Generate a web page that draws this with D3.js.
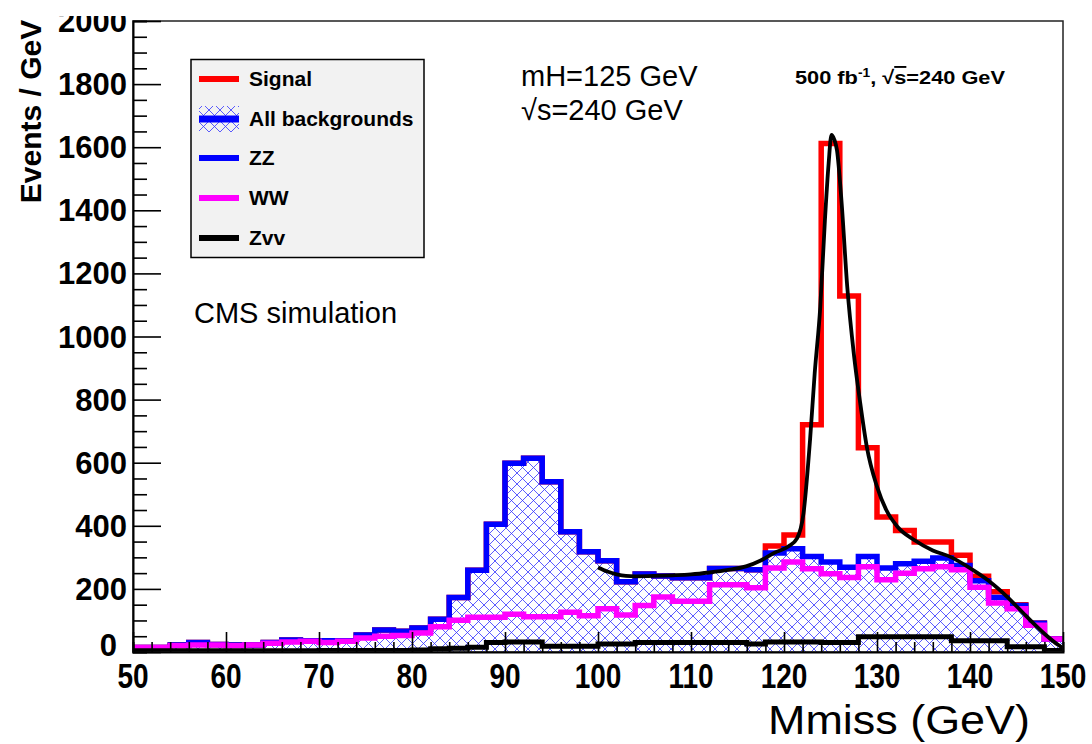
<!DOCTYPE html>
<html><head><meta charset="utf-8">
<script src="https://cdn.jsdelivr.net/npm/d3@7"></script>
<style>body{margin:0;background:#fff}svg{display:block}</style>
</head><body>
<svg id="chart" width="1092" height="744"></svg>
<script>
// ---- data (2 GeV bins, lower edges) ----
const binLow = [50,52,54,56,58,60,62,64,66,68,70,72,74,76,78,80,82,84,86,88,90,92,94,96,98,
                100,102,104,106,108,110,112,114,116,118,120,122,124,126,128,130,132,134,136,138,140,142,144,146,148];
const allBkg = [14,14,22,30,24,22,22,30,38,36,36,36,54,70,66,76,104,173,259,405,598,614,540,381,318,
                289,223,247,241,235,235,265,265,261,314,327,303,285,269,303,266,280,288,298,274,226,173,147,91,41];
const wwBkg  = [14,14,20,22,22,20,22,28,32,34,30,34,44,50,52,60,80,101,110,110,120,112,112,126,115,
                137,117,147,174,161,161,213,213,204,266,285,264,248,236,270,229,250,264,270,261,205,155,137,85,41];
const zvvBkg = [4,4,4,4,4,4,4,4,4,4,5,5,5,5,5,6,10,12,15,30,32,32,18,18,18,
                25,25,30,30,30,30,30,30,25,32,32,32,30,30,48,48,48,48,48,36,36,36,17,17,5];
const signal = [0,0,0,0,0,0,0,0,0,0,0,0,0,0,0,0,0,0,0,0,0,0,0,0,0,
                0,0,0,0,0,0,0,0,0,22,44,417,1327,859,344,162,105,61,51,33,14,18,3,1,1];
const fitMass  = [100,101,102,103,104,106,108,110,112,114,116,117.5,119,120.5,121.4,122.1,122.8,123.3,123.9,124.4,124.8,125.1,125.4,125.7,126.2,126.8,127.5,128.2,128.9,130,131,132.2,134,136,138,140,142,144,146,148,149.5,150];
const fitValue = [268,255,246,241,240,241,243,246,252,260,272,290,315,335,360,440,672,883,1094,1369,1549,1639,1625,1590,1422,1158,947,788,651,524,450,397,355,322,300,266,226,175,115,58,22,12];
const yTicks = [0,200,400,600,800,1000,1200,1400,1600,1800,2000];
const xTicks = [50,60,70,80,90,100,110,120,130,140,150];
const legendLabels = ["Signal","All backgrounds","ZZ","WW","Zvv"];
const legendColors = ["#ff0000","#0000ff","#0000ff","#ff00ff","#000000"];

// ---- geometry ----
const L = 133, R = 1063, T = 21, B = 652;
const x = d3.scaleLinear().domain([50,150]).range([L,R]);
const y = d3.scaleLinear().domain([0,2000]).range([B,T]);

const svg = d3.select("#chart");
const defs = svg.append("defs");
const pat = defs.append("pattern").attr("id","hatch").attr("patternUnits","userSpaceOnUse")
  .attr("width",11).attr("height",11);
pat.append("path").attr("d","M-1,-1L12,12M12,-1L-1,12").attr("stroke","#3333ff").attr("stroke-width",0.8).attr("fill","none");
defs.append("clipPath").attr("id","plotclip").append("rect").attr("x",L).attr("y",T).attr("width",R-L).attr("height",B-T);
defs.append("clipPath").attr("id","labclip").append("rect").attr("x",0).attr("y",16).attr("width",1092).attr("height",744);

const steps = arr => binLow.map((e,i)=>[e,arr[i]]).concat([[150,arr[arr.length-1]]]);
const line = d3.line().x(d=>x(d[0])).y(d=>y(d[1])).curve(d3.curveStepAfter);
const area = d3.area().x(d=>x(d[0])).y0(y(0)).y1(d=>y(d[1])).curve(d3.curveStepAfter);

const plot = svg.append("g").attr("clip-path","url(#plotclip)");
const total = allBkg.map((v,i)=>v+signal[i]);

plot.append("path").attr("d",area(steps(allBkg))).attr("fill","url(#hatch)");
plot.append("path").attr("d",line(steps(total))).attr("fill","none").attr("stroke","#ff0000").attr("stroke-width",5.5);
plot.append("path").attr("d",line(steps(allBkg))).attr("fill","none").attr("stroke","#0000ff").attr("stroke-width",5.5);
plot.append("path").attr("d",line(steps(wwBkg))).attr("fill","none").attr("stroke","#ff00ff").attr("stroke-width",5.5);
plot.append("path").attr("d",line(steps(zvvBkg))).attr("fill","none").attr("stroke","#000").attr("stroke-width",5);
const fitLine = d3.line().x((d,i)=>x(fitMass[i])).y(d=>y(d)).curve(d3.curveMonotoneX);
plot.append("path").attr("d",fitLine(fitValue)).attr("fill","none").attr("stroke","#000").attr("stroke-width",3.8);

// ---- frame & axes ----
svg.append("rect").attr("x",L).attr("y",T).attr("width",R-L).attr("height",B-T)
  .attr("fill","none").attr("stroke","#222").attr("stroke-width",1.5);

const yAxis = d3.axisRight(y).tickValues(d3.range(0,2001,50)).tickSize(14).tickFormat("");
const ya = svg.append("g").attr("transform",`translate(${L},0)`).call(yAxis);
ya.selectAll(".tick line").attr("x2",d=>d%200===0?28:14).attr("stroke","#000").attr("stroke-width",1.6);
ya.select(".domain").attr("stroke","#000").attr("stroke-width",2);

const xAxis = d3.axisTop(x).tickValues(d3.range(50,151,2)).tickSize(10).tickFormat("");
const xa = svg.append("g").attr("transform",`translate(0,${B})`).call(xAxis);
xa.selectAll(".tick line").attr("y2",d=>d%10===0?-20:-10).attr("stroke","#000").attr("stroke-width",1.6);
xa.select(".domain").attr("stroke","#000").attr("stroke-width",2);

// tick labels
const labG = svg.append("g").attr("clip-path","url(#labclip)");
labG.selectAll("text.yl").data(yTicks).enter().append("text")
  .attr("x",d=>d===0?117:127).attr("y",d=>y(d)+(d===0?4:11)).attr("text-anchor","end")
  .attr("font-family","Liberation Sans, Arial, sans-serif").attr("font-weight","bold").attr("font-size",31)
  .text(d=>d);
svg.selectAll("text.xl").data(xTicks).enter().append("text")
  .attr("transform",d=>`translate(${x(d)},688) scale(0.8,1)`).attr("text-anchor","middle")
  .attr("font-family","Liberation Sans, Arial, sans-serif").attr("font-weight","bold").attr("font-size",35)
  .text(d=>d);

svg.append("text").attr("transform","translate(41,111.5) rotate(-90)").attr("text-anchor","middle")
  .attr("font-family","Liberation Sans, Arial, sans-serif").attr("font-weight","bold").attr("font-size",30)
  .text("Events / GeV");

svg.append("text").attr("x",768).attr("y",734)
  .attr("font-family","Liberation Sans, Arial, sans-serif").attr("font-size",41)
  .attr("textLength",262).attr("lengthAdjust","spacingAndGlyphs").text("Mmiss (GeV)");

// ---- legend ----
const lg = svg.append("g");
lg.append("rect").attr("x",191).attr("y",59.5).attr("width",233).attr("height",198)
  .attr("fill","#f2f2f2").attr("stroke","#000").attr("stroke-width",1.5);
const rowY = [79,119,158,198,238];
legendLabels.forEach((lab,i)=>{
  if(i===1){
    lg.append("rect").attr("x",199).attr("y",rowY[i]-13).attr("width",40).attr("height",26).attr("fill","url(#hatch)");
  }
  lg.append("line").attr("x1",199).attr("x2",239).attr("y1",rowY[i]).attr("y2",rowY[i])
    .attr("stroke",legendColors[i]).attr("stroke-width",i===1?7:6);
  lg.append("text").attr("x",249).attr("y",rowY[i]+7)
    .attr("font-family","Liberation Sans, Arial, sans-serif").attr("font-weight","bold").attr("font-size",21)
    .text(lab);
});

// ---- annotations ----
const ann = svg.append("g").attr("font-family","Liberation Sans, Arial, sans-serif").attr("font-size",29);
ann.append("text").attr("x",521).attr("y",86).text("mH=125 GeV");
ann.append("text").attr("x",521).attr("y",120).text("√s=240 GeV");
ann.append("text").attr("x",194).attr("y",323).text("CMS simulation");

const lum = svg.append("text").attr("x",795).attr("y",84)
  .attr("font-family","Liberation Sans, Arial, sans-serif").attr("font-weight","bold").attr("font-size",19)
  .attr("textLength",210).attr("lengthAdjust","spacingAndGlyphs");
lum.append("tspan").text("500 fb");
lum.append("tspan").attr("dy",-7).attr("font-size",12).text("-1");
lum.append("tspan").attr("dy",7).text(",  √");
lum.append("tspan").attr("text-decoration","overline").text("s");
lum.append("tspan").text("=240 GeV");
</script>
</body></html>
